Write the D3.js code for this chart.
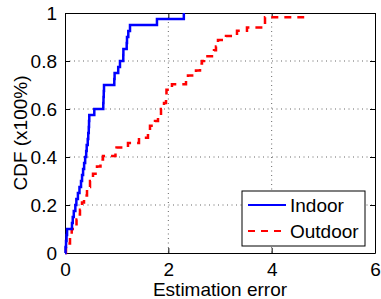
<!DOCTYPE html>
<html>
<head>
<meta charset="utf-8">
<script src="https://cdn.jsdelivr.net/npm/d3@7"></script>
<style>
  body { margin: 0; background: #fff; }
  text { font-family: "Liberation Sans", Arial, sans-serif; }
</style>
</head>
<body>
<svg id="canvas" width="381" height="299"></svg>
<script>
// step points: error value where the CDF steps, and the level after it
let indoorErr = [0, 0.01, 0.02, 0.03, 0.04, 0.135, 0.15, 0.17, 0.2, 0.22, 0.25, 0.28, 0.31, 0.33, 0.35, 0.37, 0.39, 0.41, 0.42, 0.44, 0.45, 0.46, 0.465, 0.47, 0.567, 0.741, 0.745, 0.75, 0.755, 0.954, 0.96, 1.03, 1.064, 1.128, 1.13, 1.194, 1.2, 1.225, 1.258, 1.78, 2.3]
let indoorCdf = [0, 0.025, 0.05, 0.075, 0.1, 0.125, 0.15, 0.175, 0.2, 0.225, 0.25, 0.275, 0.3, 0.325, 0.35, 0.375, 0.4, 0.425, 0.45, 0.475, 0.5, 0.525, 0.55, 0.575, 0.6, 0.625, 0.65, 0.675, 0.7, 0.725, 0.75, 0.775, 0.8, 0.825, 0.85, 0.875, 0.9, 0.925, 0.95, 0.975, 1]

let outdoorErr = [0, 0.019, 0.058, 0.097, 0.13, 0.223, 0.252, 0.29, 0.329, 0.368, 0.426, 0.484, 0.542, 0.619, 0.687, 0.735, 0.977, 0.997, 1.219, 1.432, 1.606, 1.645, 1.742, 1.8, 1.858, 1.916, 1.955, 1.964, 2.07, 2.342, 2.38, 2.535, 2.613, 2.651, 2.69, 2.884, 2.922, 2.961, 3.116, 3.329, 3.522, 3.871, 4.63]
let outdoorCdf = [0, 0.02, 0.04, 0.07, 0.1, 0.14, 0.16, 0.18, 0.21, 0.24, 0.275, 0.3, 0.33, 0.36, 0.39, 0.404, 0.42, 0.44, 0.458, 0.48, 0.51, 0.53, 0.55, 0.57, 0.6, 0.625, 0.65, 0.68, 0.703, 0.725, 0.74, 0.76, 0.79, 0.8, 0.82, 0.845, 0.86, 0.8875, 0.904, 0.926, 0.94, 0.982, 0.982]

let xTicks = [0, 2, 4, 6]
let yTicks = [0, 0.2, 0.4, 0.6, 0.8, 1]
let seriesNames = ["Indoor", "Outdoor"]

let canvas = d3.select("#canvas")

let plotLeft = 65, plotRight = 375, plotTop = 13, plotBottom = 253
let fontSize = 19 + "px"
let tickFmt = d3.format("~g")

let xScale = d3.scaleLinear().domain([0, 6]).range([plotLeft, plotRight])
let yScale = d3.scaleLinear().domain([0, 1]).range([plotBottom, plotTop])

// dotted grid
canvas.append("g")
    .selectAll("line")
    .data(xTicks.slice(1, -1))
    .enter()
    .append("line")
    .attr("x1", d => xScale(d)).attr("x2", d => xScale(d))
    .attr("y1", plotTop).attr("y2", plotBottom)
    .attr("stroke", "#666")
    .attr("stroke-dasharray", "1,3.5")

canvas.append("g")
    .selectAll("line")
    .data(yTicks.slice(1, -1))
    .enter()
    .append("line")
    .attr("x1", plotLeft).attr("x2", plotRight)
    .attr("y1", d => yScale(d)).attr("y2", d => yScale(d))
    .attr("stroke", "#666")
    .attr("stroke-dasharray", "1,3.5")

// axes, ticks pointing inward on all four sides
let xAxis = d3.axisBottom(xScale).tickValues(xTicks).tickFormat(tickFmt).tickSizeInner(-5).tickSizeOuter(0).tickPadding(10)
let yAxis = d3.axisLeft(yScale).tickValues(yTicks).tickFormat(tickFmt).tickSizeInner(-5).tickSizeOuter(0).tickPadding(8)

canvas.append("g")
    .attr("transform", "translate(0," + plotBottom + ")")
    .call(xAxis)
    .call(g => g.selectAll("text").style("font-size", fontSize).attr("fill", "#000"))

canvas.append("g")
    .attr("transform", "translate(" + plotLeft + ",0)")
    .call(yAxis)
    .call(g => g.selectAll("text").style("font-size", fontSize).attr("fill", "#000"))

canvas.append("g")
    .attr("transform", "translate(0," + plotTop + ")")
    .call(d3.axisTop(xScale).tickValues(xTicks).tickSizeInner(-5).tickSizeOuter(0).tickFormat(""))

canvas.append("g")
    .attr("transform", "translate(" + plotRight + ",0)")
    .call(d3.axisRight(yScale).tickValues(yTicks).tickSizeInner(-5).tickSizeOuter(0).tickFormat(""))

canvas.selectAll(".domain").attr("stroke", "#000")
canvas.selectAll(".tick line").attr("stroke", "#000")

// cdf lines
let line = d3.line()
    .x(d => xScale(d[0]))
    .y(d => yScale(d[1]))
    .curve(d3.curveStepAfter)

canvas.append("path")
    .datum(d3.zip(outdoorErr, outdoorCdf))
    .attr("d", line)
    .attr("fill", "none")
    .attr("stroke", "#ff0000")
    .attr("stroke-width", 2.5)
    .attr("stroke-dasharray", "7,6")

canvas.append("path")
    .datum(d3.zip(indoorErr, indoorCdf))
    .attr("d", line)
    .attr("fill", "none")
    .attr("stroke", "#0000ff")
    .attr("stroke-width", 2.5)

// axis labels
canvas.append("text")
    .attr("x", (plotLeft + plotRight) / 2)
    .attr("y", 296)
    .attr("text-anchor", "middle")
    .style("font-size", fontSize)
    .text("Estimation error")

canvas.append("text")
    .attr("transform", "translate(27," + (plotTop + plotBottom) / 2 + ") rotate(-90)")
    .attr("text-anchor", "middle")
    .style("font-size", fontSize)
    .text("CDF (x100%)")

// legend
let legend = canvas.append("g").attr("transform", "translate(242,191)")

legend.append("rect")
    .attr("width", 123)
    .attr("height", 55)
    .attr("fill", "#fff")
    .attr("stroke", "#000")

let legendColors = ["#0000ff", "#ff0000"]
let legendDash = ["none", "7,6"]

legend.selectAll("line.key")
    .data(seriesNames)
    .enter()
    .append("line")
    .attr("class", "key")
    .attr("x1", 6).attr("x2", 44)
    .attr("y1", (d, i) => 14 + i * 26).attr("y2", (d, i) => 14 + i * 26)
    .attr("stroke", (d, i) => legendColors[i])
    .attr("stroke-width", 2)
    .attr("stroke-dasharray", (d, i) => legendDash[i])

legend.selectAll("text")
    .data(seriesNames)
    .enter()
    .append("text")
    .attr("x", 48)
    .attr("y", (d, i) => 21 + i * 26)
    .style("font-size", fontSize)
    .text(d => d)
</script>
</body>
</html>
